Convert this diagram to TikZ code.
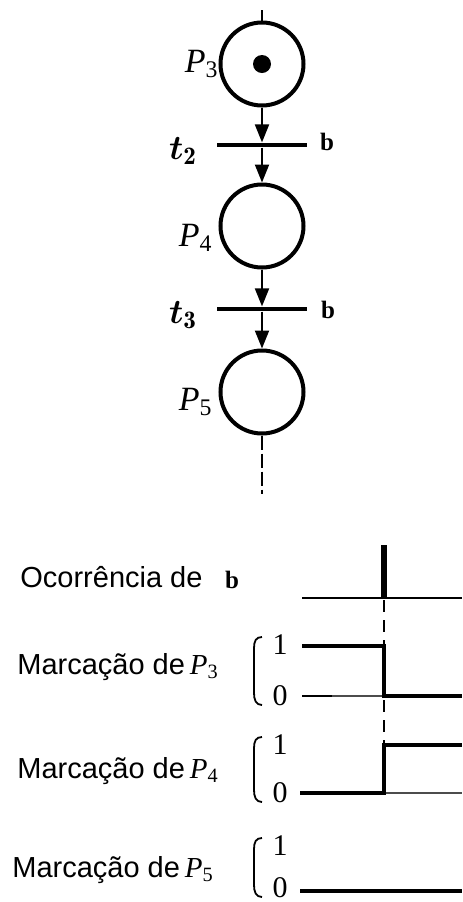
\documentclass[tikz,border=0pt]{standalone}
\usepackage{amsmath,amssymb}
\usepackage{fontspec}
\usepackage{tikz}
\usetikzlibrary{arrows.meta,positioning}
\newfontfamily\arialfont{Liberation Sans}
\newfontfamily\timesfont{Liberation Serif}
\newcommand\pname[1]{{\timesfont\itshape P}$_{\text{\timesfont #1}}$}

\begin{document}
\begin{tikzpicture}[
  x=0.5pt, y=-0.5pt,
  place/.style={draw, circle, line width=2pt, minimum size=41.5pt, inner sep=0pt},
  trans/.style={fill=black, minimum width=45pt, minimum height=2.2pt, inner sep=0pt},
  arc/.style={-{Triangle[length=9pt,width=7pt]}, line width=1pt},
  plbl/.style={anchor=east, inner sep=0pt, font=\fontsize{17}{19}\selectfont},
  tlbl/.style={inner sep=0pt, font=\fontsize{18}{20}\selectfont},
  evlbl/.style={inner sep=0pt, font=\timesfont\bfseries\fontsize{12.5}{14}\selectfont},
  rowlbl/.style={anchor=west, inner sep=0pt, font=\arialfont\fontsize{14.5}{17}\selectfont},
  lvl/.style={inner sep=0pt, font=\timesfont\fontsize{15}{17}\selectfont},
  wave/.style={line width=1.8pt},
  base/.style={line width=0.6pt, black!70}
]
  \useasboundingbox (0,0) rectangle (462,902);

  % net
  \node[place] (p3) at (262,64) {};
  \node[trans] (t2) at (262,145) {};
  \node[place] (p4) at (262,226) {};
  \node[trans] (t3) at (262,309) {};
  \node[place] (p5) at (262,392) {};
  \fill (p3.center) circle (4.5pt);
  \coordinate (in) at (262,10);
  \coordinate (out) at (262,494);

  \node[plbl] (p3l) at (219,64) {\pname{3}};
  \node[plbl] (p4l) at (213,238) {\pname{4}};
  \node[plbl] (p5l) at (213,402) {\pname{5}};
  \node[tlbl] (t2l) at (183,151) {$\boldsymbol{t}_{\mathbf{2}}$};
  \node[tlbl] (t3l) at (183,315) {$\boldsymbol{t}_{\mathbf{3}}$};
  \node[evlbl] (b2) at (327,142) {b};
  \node[evlbl] (b3) at (328,310) {b};

  \draw[line width=1pt] (in) -- (p3);
  \draw[arc] (p3) -- (t2);
  \draw[arc] (t2) -- (p4);
  \draw[arc] (p4) -- (t3);
  \draw[arc] (t3) -- (p5);
  \draw[line width=1pt, dash pattern=on 7pt off 2pt] (p5) -- (out);

  % timing
  \node[rowlbl] (occ) at (20,577) {Ocorrência de};
  \node[evlbl] (occb) at (232,580) {b};
  \node[rowlbl] (m3) at (17,667) {Marcação de\,\pname{3}};
  \node[rowlbl] (m4) at (17,771) {Marcação de\,\pname{4}};
  \node[rowlbl] (m5) at (12,870) {Marcação de\,\pname{5}};

  \foreach \yh/\yl/\n in {645/696/3, 745/793/4, 846/888/5} {
    \node[lvl] (one\n) at (280,\yh) {1};
    \node[lvl] (zero\n) at (280,\yl) {0};
    \draw[line width=0.9pt] (262,\yh-8) .. controls (256,\yh-8) and (254,\yh-4) .. (254,\yh+3)
      -- (254,\yl-3) .. controls (254,\yl+4) and (256,\yl+9) .. (262,\yl+9);
  }

  \draw[line width=1pt] (302,598) -- (462,598);
  \draw[line width=3pt] (384,545) -- (384,598);
  \draw[line width=0.8pt, dash pattern=on 6pt off 4pt] (384,600) -- (384,745);

  \draw[base] (302,696) -- (384,696);
  \draw[line width=1pt] (302,696) -- (332,696);
  \draw[wave] (302,646) -- (384,646) -- (384,696) -- (462,696);

  \draw[base] (384,793) -- (462,793);
  \draw[wave] (300,793) -- (384,793) -- (384,745) -- (462,745);

  \draw[wave] (300,891) -- (462,891);
\end{tikzpicture}
\end{document}
